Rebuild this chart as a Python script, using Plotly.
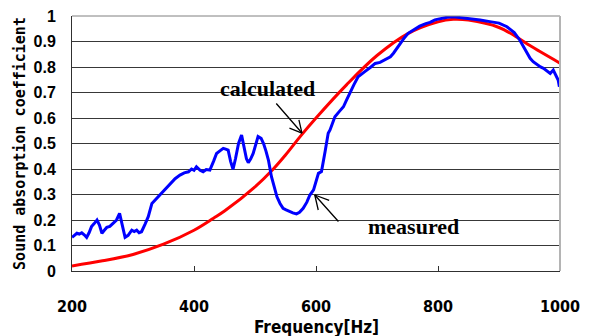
import plotly.graph_objects as go

# Calculated absorption coefficient (red)
calc_freq = [200, 250, 300, 350, 400, 432, 450, 500, 530, 550, 575, 600, 650, 700,
             750, 800, 825, 850, 900, 934, 950, 1000]
calc_alpha = [0.02, 0.04, 0.065, 0.105, 0.16, 0.207, 0.235, 0.33, 0.40, 0.455, 0.53,
              0.60, 0.73, 0.845, 0.93, 0.977, 0.987, 0.984, 0.955, 0.91, 0.885, 0.815]

# Measured absorption coefficient (blue)
meas_freq = [200, 204, 208, 212, 216, 220, 224, 228, 232, 236, 241, 245, 249, 253, 257,
             262, 268, 273, 278, 282, 287, 292, 298, 302, 306, 310, 314, 320, 325, 331,
             337, 344, 352, 361, 369, 377, 384, 391, 396, 400, 404, 410, 415, 420, 426,
             432, 437, 443, 448, 452, 456, 460, 464, 468, 473, 478, 483, 486, 489, 493,
             497, 501, 505, 510, 514, 518, 522, 527, 531, 536, 541, 546, 551, 557, 562,
             568, 573, 579, 585, 590, 596, 604, 609, 615, 620, 623, 631, 638, 645, 650,
             656, 662, 669, 675, 680, 690, 697, 705, 716, 722, 727, 733, 738, 745, 751,
             760, 770, 780, 787, 795, 805, 815, 825, 840, 852, 869, 885, 900, 913, 925,
             934, 940, 945, 951, 956, 962, 968, 973, 978, 984, 989, 993, 997, 999, 1000]
meas_alpha = [0.132, 0.140, 0.148, 0.145, 0.150, 0.142, 0.132, 0.150, 0.174, 0.185, 0.200,
              0.180, 0.148, 0.160, 0.171, 0.175, 0.187, 0.200, 0.226, 0.180, 0.132, 0.140,
              0.160, 0.155, 0.160, 0.150, 0.154, 0.185, 0.213, 0.265, 0.280, 0.298, 0.320,
              0.344, 0.362, 0.376, 0.385, 0.389, 0.400, 0.395, 0.409, 0.395, 0.389, 0.398,
              0.396, 0.430, 0.461, 0.472, 0.481, 0.478, 0.474, 0.430, 0.399, 0.440, 0.500,
              0.533, 0.480, 0.440, 0.425, 0.440, 0.461, 0.500, 0.527, 0.520, 0.500, 0.470,
              0.435, 0.370, 0.330, 0.291, 0.265, 0.246, 0.240, 0.233, 0.228, 0.224, 0.230,
              0.246, 0.270, 0.298, 0.318, 0.383, 0.390, 0.470, 0.540, 0.553, 0.605, 0.625,
              0.644, 0.670, 0.697, 0.730, 0.762, 0.775, 0.782, 0.800, 0.814, 0.818, 0.834,
              0.840, 0.854, 0.875, 0.895, 0.915, 0.932, 0.945, 0.960, 0.970, 0.975, 0.985,
              0.990, 0.995, 0.997, 0.993, 0.990, 0.984, 0.978, 0.972, 0.958, 0.935, 0.906,
              0.880, 0.854, 0.834, 0.821, 0.810, 0.800, 0.795, 0.785, 0.775, 0.788, 0.770,
              0.749, 0.723, 0.740]

x_ticks = [200, 400, 600, 800, 1000]
y_ticks = [0, 0.1, 0.2, 0.3, 0.4, 0.5, 0.6, 0.7, 0.8, 0.9, 1]
y_tick_labels = ["0", "0.1", "0.2", "0.3", "0.4", "0.5", "0.6", "0.7", "0.8", "0.9", "1"]

xtick_font = dict(family="DejaVu Sans Condensed", size=16, color="black", weight="bold")
ytick_font = dict(family="Liberation Sans", size=16, color="black", weight="bold")
serif_font = dict(family="Liberation Serif", size=22, color="black", weight="bold")


def arrow(x, y, ax, ay):
    return dict(x=x, y=y, ax=ax, ay=ay, text="", showarrow=True, arrowhead=0,
                arrowwidth=1.3, arrowcolor="black", standoff=0, startstandoff=0)


fig = go.Figure()
fig.add_trace(go.Scatter(x=calc_freq, y=calc_alpha, mode="lines", line=dict(color="#ff0000", width=3, shape="spline"),
                         showlegend=False, hoverinfo="skip"))
fig.add_trace(go.Scatter(x=meas_freq, y=meas_alpha, mode="lines", line=dict(color="#0000ff", width=3),
                         showlegend=False, hoverinfo="skip"))

fig.update_layout(
    width=589, height=336,
    margin=dict(l=72, r=29, t=16, b=65),
    paper_bgcolor="white", plot_bgcolor="white",
    xaxis=dict(range=[200, 1000], tickvals=x_ticks, ticktext=[str(v) for v in x_ticks],
               showgrid=False, zeroline=False, showline=True, linecolor="#303030", linewidth=1,
               ticks="inside", ticklen=5, tickcolor="#303030", tickfont=xtick_font,
               ticklabelstandoff=21, automargin=False),
    yaxis=dict(range=[0, 1], tickvals=y_ticks, ticktext=y_tick_labels,
               showgrid=True, gridcolor="#383838", gridwidth=1, zeroline=False,
               showline=True, linecolor="#303030", linewidth=1, ticks="", tickfont=ytick_font,
               ticklabelstandoff=12, automargin=False,
               title=dict(text="Sound absorption coefficient",
                          font=dict(family="DejaVu Sans Mono", size=15, color="black", weight="bold"), standoff=4)),
    shapes=[
        dict(type="line", xref="paper", yref="paper", x0=0, x1=1, y0=1, y1=1, line=dict(color="#808080", width=1)),
        dict(type="line", xref="paper", yref="paper", x0=1, x1=1, y0=0, y1=1, line=dict(color="#b4b4b4", width=2)),
    ],
    annotations=[
        dict(x=0.5, y=-0.22, xref="paper", yref="paper", text="Frequency[Hz]", showarrow=False,
             xanchor="center", yanchor="middle",
             font=dict(family="DejaVu Sans Condensed", size=17, color="black", weight="bold")),
        dict(x=520, y=0.714, text="calculated", showarrow=False, font=serif_font),
        dict(x=760, y=0.173, text="measured", showarrow=False, font=serif_font),
        arrow(577, 0.541, -27, -31),
        arrow(577, 0.541, -3.4, -14.6),
        arrow(577, 0.541, -14.0, -5.4),
        arrow(598, 0.298, 25, 28),
        arrow(598, 0.298, 3.8, 16.5),
        arrow(598, 0.298, 15.9, 5.9),
    ],
)

fig.write_html("out.html")
